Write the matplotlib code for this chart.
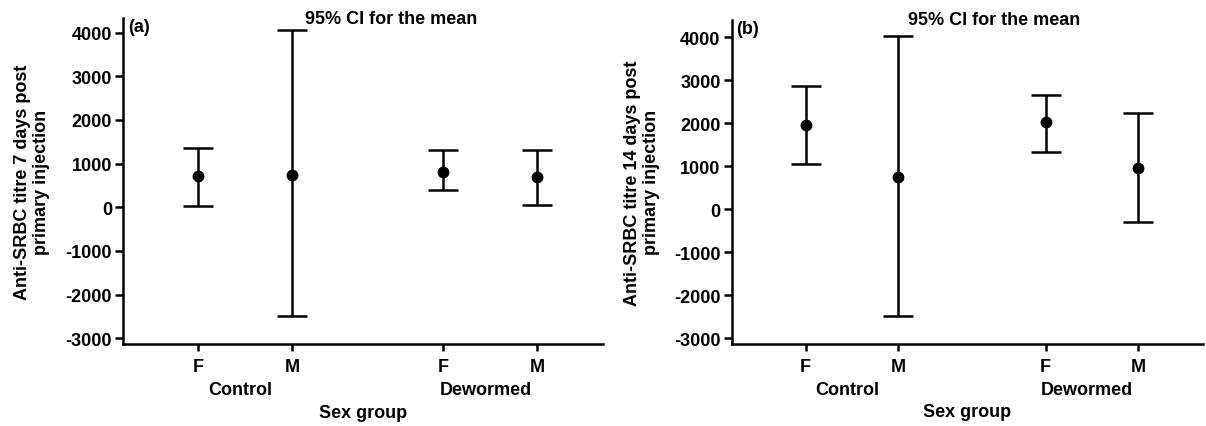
import numpy as np
import matplotlib.pyplot as plt
from matplotlib.transforms import blended_transform_factory

plt.rcParams['font.family'] = ['Liberation Sans', 'DejaVu Sans']
plt.rcParams['font.weight'] = 'bold'
plt.rcParams['font.size'] = 13
plt.rcParams['axes.unicode_minus'] = False

# 95% CI for the mean, per panel: Control F, Control M, Dewormed F, Dewormed M
sex_labels = ['F', 'M', 'F', 'M']
groups = ['Control', 'Dewormed']
panels = ['(a)', '(b)']
ylabels = ['Anti-SRBC titre 7 days post\nprimary injection',
           'Anti-SRBC titre 14 days post\nprimary injection']

mean_7 = [710, 750, 820, 690]
lower_7 = [40, -2480, 390, 60]
upper_7 = [1360, 4050, 1320, 1320]

mean_14 = [1960, 760, 2020, 960]
lower_14 = [1050, -2480, 1340, -290]
upper_14 = [2870, 4020, 2670, 2230]

xpos = np.array([0, 1, 2.6, 3.6])

fig = plt.figure(figsize=(12.06, 4.27), dpi=100)
ax_a = fig.add_axes([0.102, 0.192, 0.398, 0.763])
ax_b = fig.add_axes([0.6067, 0.192, 0.3906, 0.7595])

data = [(mean_7, lower_7, upper_7), (mean_14, lower_14, upper_14)]
ylims = [(-3130, 4330), (-3133, 4410)]

for i, ax in enumerate([ax_a, ax_b]):
    m, lo, hi = [np.array(v) for v in data[i]]
    ax.errorbar(xpos, m, yerr=[m - lo, hi - m], fmt='o', color='black',
                ms=7.5, elinewidth=1.8, capsize=11, capthick=1.8)
    ax.set_xlim(-0.8, 4.3)
    ax.set_ylim(*ylims[i])
    ax.set_yticks(np.arange(-3000, 4001, 1000))
    ax.set_xticks(xpos)
    ax.set_xticklabels(sex_labels)
    for s in ['top', 'right']:
        ax.spines[s].set_visible(False)
    for s in ['left', 'bottom']:
        ax.spines[s].set_linewidth(1.8)
    ax.tick_params(axis='y', length=6, width=1.8, pad=2)
    ax.tick_params(axis='x', length=5, width=1.8, pad=5)

    tr = blended_transform_factory(ax.transData, ax.transAxes)
    ax.text((xpos[0] + xpos[1]) / 2 - 0.05, -0.141, groups[0], transform=tr,
            ha='center', va='center')
    ax.text((xpos[2] + xpos[3]) / 2 - 0.05, -0.141, groups[1], transform=tr,
            ha='center', va='center')
    ax.text(0.5, -0.209, 'Sex group', transform=ax.transAxes, ha='center', va='center')
    ax.text(0.558, 1.0, '95% CI for the mean', transform=ax.transAxes,
            ha='center', va='center')
    ax.text(0.01, 1.0, panels[i], transform=ax.transAxes, ha='left', va='top')
    ax.text(-0.19, 0.5, ylabels[i], transform=ax.transAxes, rotation=90,
            ha='center', va='center', multialignment='center')

fig.savefig('out.png', dpi=100)
